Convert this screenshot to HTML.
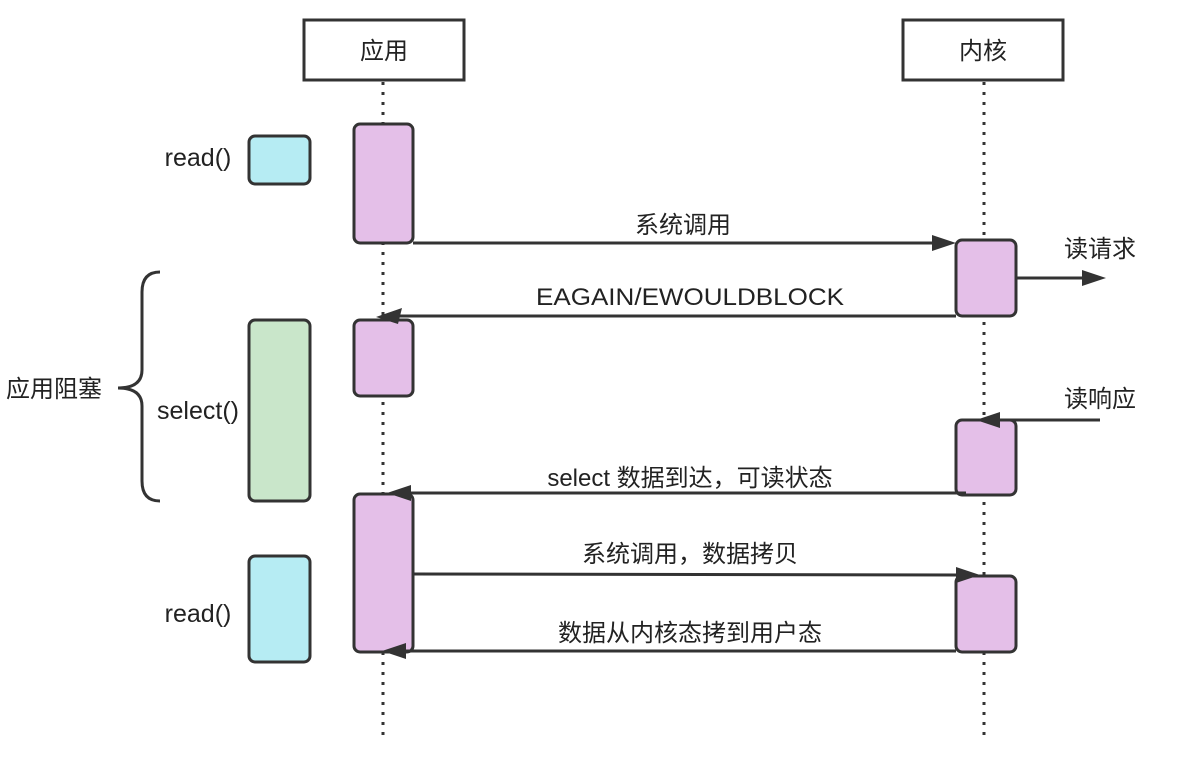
<!DOCTYPE html>
<html><head><meta charset="utf-8"><style>
html,body{margin:0;padding:0;background:#fff;}
svg{display:block;}
text{font-family:"Liberation Sans","Noto Sans CJK SC",sans-serif;fill:#222;font-size:24px;}
.l{font-size:25px;}
</style></head><body>
<svg width="1180" height="762" viewBox="0 0 1180 762" xmlns="http://www.w3.org/2000/svg">
<g stroke="#333" stroke-width="3" stroke-dasharray="3 7" fill="none">
<line x1="383" y1="82" x2="383" y2="742"/>
<line x1="984" y1="82" x2="984" y2="742"/>
</g>
<g stroke="#333" stroke-width="3" fill="#fff">
<rect x="304" y="20" width="160" height="60"/>
<rect x="903" y="20" width="160" height="60"/>
</g>
<text x="384" y="59" text-anchor="middle">应用</text>
<text x="983" y="59" text-anchor="middle">内核</text>
<g stroke="#333" stroke-width="3">
<rect x="354" y="124" width="59" height="119" rx="6" fill="#e4bfe8"/>
<rect x="354" y="320" width="59" height="76" rx="6" fill="#e4bfe8"/>
<rect x="354" y="494" width="59" height="158" rx="6" fill="#e4bfe8"/>
<rect x="956" y="240" width="60" height="76" rx="6" fill="#e4bfe8"/>
<rect x="956" y="420" width="60" height="75" rx="6" fill="#e4bfe8"/>
<rect x="956" y="576" width="60" height="76" rx="6" fill="#e4bfe8"/>
<rect x="249" y="136" width="61" height="48" rx="6" fill="#b6ecf3"/>
<rect x="249" y="320" width="61" height="181" rx="6" fill="#c9e6ca"/>
<rect x="249" y="556" width="61" height="106" rx="6" fill="#b6ecf3"/>
</g>
<text class="l" x="198" y="166" text-anchor="middle">read()</text>
<text class="l" x="198" y="419" text-anchor="middle">select()</text>
<text class="l" x="198" y="622" text-anchor="middle">read()</text>
<text x="54" y="397" text-anchor="middle">应用阻塞</text>
<path d="M160 272 Q142 272 142 292 L142 370 Q142 388 118 388 Q142 388 142 406 L142 481 Q142 501 160 501" stroke="#333" stroke-width="3" fill="none"/>
<g stroke="#333" stroke-width="3" fill="none">
<line x1="413" y1="243" x2="935" y2="243"/>
<line x1="956" y1="316" x2="398" y2="316"/>
<line x1="1016" y1="278" x2="1085" y2="278"/>
<line x1="1100" y1="420" x2="995" y2="420"/>
<line x1="966" y1="493" x2="405" y2="493"/>
<line x1="413" y1="574" x2="960" y2="575"/>
<line x1="956" y1="651" x2="400" y2="651"/>
</g>
<g fill="#333">
<polygon points="956,243 932,235 932,251"/>
<polygon points="376,317 402,308 398,324"/>
<polygon points="1106,278 1082,270 1082,286"/>
<polygon points="976,420 1000,412 1000,428"/>
<polygon points="387,493 411,485 411,501"/>
<polygon points="980,575 956,567 956,583"/>
<polygon points="382,651 406,643 406,659"/>
</g>
<text x="683" y="233" text-anchor="middle">系统调用</text>
<text x="690" y="305" text-anchor="middle" textLength="308" lengthAdjust="spacingAndGlyphs">EAGAIN/EWOULDBLOCK</text>
<text x="1100" y="257" text-anchor="middle">读请求</text>
<text x="1100" y="407" text-anchor="middle">读响应</text>
<text x="690" y="486" text-anchor="middle">select 数据到达，可读状态</text>
<text x="690" y="562" text-anchor="middle">系统调用，数据拷贝</text>
<text x="690" y="641" text-anchor="middle">数据从内核态拷到用户态</text>
</svg>
</body></html>
